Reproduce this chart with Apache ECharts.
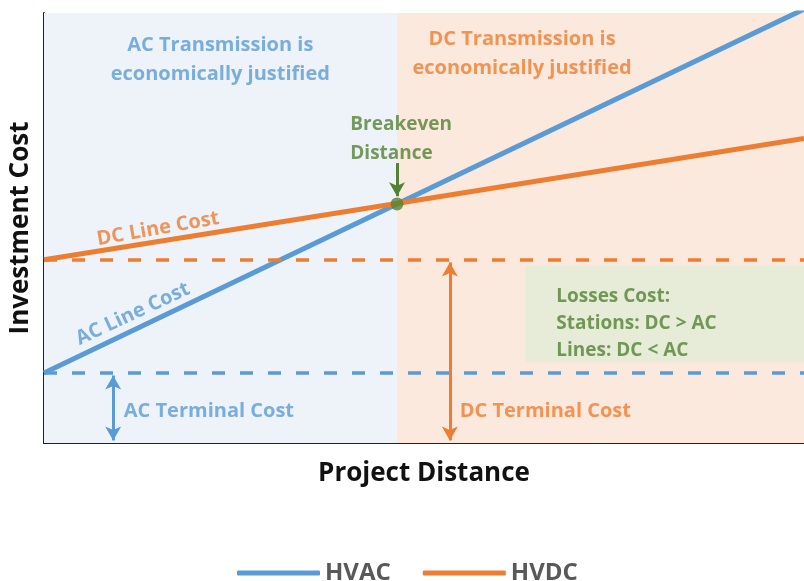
<!DOCTYPE html>
<html>
<head>
<meta charset="utf-8">
<script src="https://cdn.jsdelivr.net/npm/echarts@6/dist/echarts.min.js"></script>
<style>
  html, body { margin: 0; padding: 0; background: #fff; }
  #chart { width: 804px; height: 581px; }
</style>
</head>
<body>
<div id="chart"></div>
<script>
// cost lines, read at the two ends of the distance axis (0..100)
var distance = [0, 100];
var hvacCost = [16.3, 100.9];
var hvdcCost = [42.6, 70.8];
var acTerminal = 16.3;
var dcTerminal = 42.6;
var breakeven = [46.45, 55.6];
var lossesBox = [[63.3, 18.8], [100, 41.2]];

var blue = '#5b9bd5', orange = '#ed7d31', green = '#548235';
var font = 'Open Sans';

function pairs(xs, ys) {
	return xs.map(function (x, i) { return [x, ys[i]]; });
}

// text labels, drawn as empty scatter points with labels
function note(x, y, text, color, opts) {
	opts = opts || {};
	return {
		value: [x, y],
		label: {
			show: true, position: 'inside', formatter: text,
			color: color, fontFamily: font, fontWeight: 'bold',
			fontSize: opts.size || 20, lineHeight: opts.lh || 29,
			align: opts.align || 'center', rotate: opts.rotate || 0
		}
	};
}

var chart = echarts.init(document.getElementById('chart'));
var option = {
	animation: false,
	grid: { left: 44, right: 0, top: 13, bottom: 138, outerBoundsMode: 'none', containLabel: false },
	xAxis: {
		type: 'value', min: 0, max: 100,
		name: 'Project Distance', nameLocation: 'middle', nameGap: 18,
		nameTextStyle: { fontFamily: font, fontWeight: 'bold', fontSize: 26, color: '#111' },
		axisLine: { lineStyle: { color: '#222', width: 2 } },
		axisTick: { show: false }, axisLabel: { show: false }, splitLine: { show: false }
	},
	yAxis: {
		type: 'value', min: 0, max: 100,
		name: 'Investment Cost', nameLocation: 'middle', nameGap: 10, nameRotate: 90,
		nameTextStyle: { fontFamily: font, fontWeight: 'bold', fontSize: 26, color: '#111' },
		axisLine: { show: true, lineStyle: { color: '#222', width: 2 } },
		axisTick: { show: false }, axisLabel: { show: false }, splitLine: { show: false }
	},
	legend: {
		top: 556, left: 232, itemGap: 32,
		icon: 'roundRect', itemWidth: 83, itemHeight: 5,
		textStyle: { fontFamily: font, fontWeight: 'bold', fontSize: 24, color: '#595959' },
		data: ['HVAC', 'HVDC']
	},
	series: [
		{
			// background regions and the dashed terminal levels
			type: 'line', data: [], silent: true,
			markArea: {
				silent: true,
				data: [
					[{ coord: [0, 0], itemStyle: { color: '#eef3fa' } }, { coord: [breakeven[0], 100] }],
					[{ coord: [breakeven[0], 0], itemStyle: { color: '#fbe9dd' } }, { coord: [100, 100] }],
					[{ coord: lossesBox[0], itemStyle: { color: '#e6ecd8' } }, { coord: lossesBox[1] }]
				]
			},
			markLine: {
				silent: true, symbol: 'none', label: { show: false },
				data: [
					[{ coord: [0, dcTerminal], lineStyle: { color: orange, width: 3.5, type: [13, 15] } }, { coord: [100, dcTerminal] }],
					[{ coord: [0, acTerminal], lineStyle: { color: blue, width: 3.5, type: [13, 15] } }, { coord: [100, acTerminal] }]
				]
			}
		},
		{
			name: 'HVAC', type: 'line', color: blue, showSymbol: false,
			lineStyle: { width: 5 }, data: pairs(distance, hvacCost), z: 3
		},
		{
			name: 'HVDC', type: 'line', color: orange, showSymbol: false,
			lineStyle: { width: 5 }, data: pairs(distance, hvdcCost), z: 3
		},
		{
			// terminal cost and breakeven arrows
			type: 'line', data: [], silent: true,
			markLine: {
				silent: true, label: { show: false }, symbolSize: [12, 14],
				data: [
					[{ coord: [9.1, 0.6], symbol: 'arrow', lineStyle: { color: blue, width: 3, type: 'solid' } }, { coord: [9.1, acTerminal - 0.6], symbol: 'arrow' }],
					[{ coord: [53.4, 0.6], symbol: 'arrow', lineStyle: { color: orange, width: 3, type: 'solid' } }, { coord: [53.4, dcTerminal - 0.6], symbol: 'arrow' }],
					[{ coord: [breakeven[0], 65.1], symbol: 'none', lineStyle: { color: green, width: 3, type: 'solid' } }, { coord: [breakeven[0], 57.4], symbol: 'arrow' }]
				]
			}
		},
		{
			type: 'scatter', silent: true, z: 5,
			symbolSize: 13, itemStyle: { color: green },
			data: [breakeven]
		},
		{
			type: 'scatter', silent: true, symbolSize: 0, z: 6,
			data: [
				note(23.2, 89.1, 'AC Transmission is\neconomically justified', blue),
				note(62.9, 90.5, 'DC Transmission is\neconomically justified', orange),
				note(40.3, 70.6, 'Breakeven\nDistance', green, { align: 'left', size: 19 }),
				note(10.5, 7.4, 'AC Terminal Cost', blue, { align: 'left' }),
				note(54.7, 7.4, 'DC Terminal Cost', orange, { align: 'left' }),
				note(67.4, 27.7, 'Losses Cost:\nStations: DC > AC\nLines: DC < AC', green, { align: 'left', size: 19, lh: 27 }),
				note(15.0, 49.8, 'DC Line Cost', orange, { rotate: 10 }),
				note(11.7, 30.0, 'AC Line Cost', blue, { rotate: 25 })
			]
		}
	]
};
chart.setOption(option);
</script>
</body>
</html>
